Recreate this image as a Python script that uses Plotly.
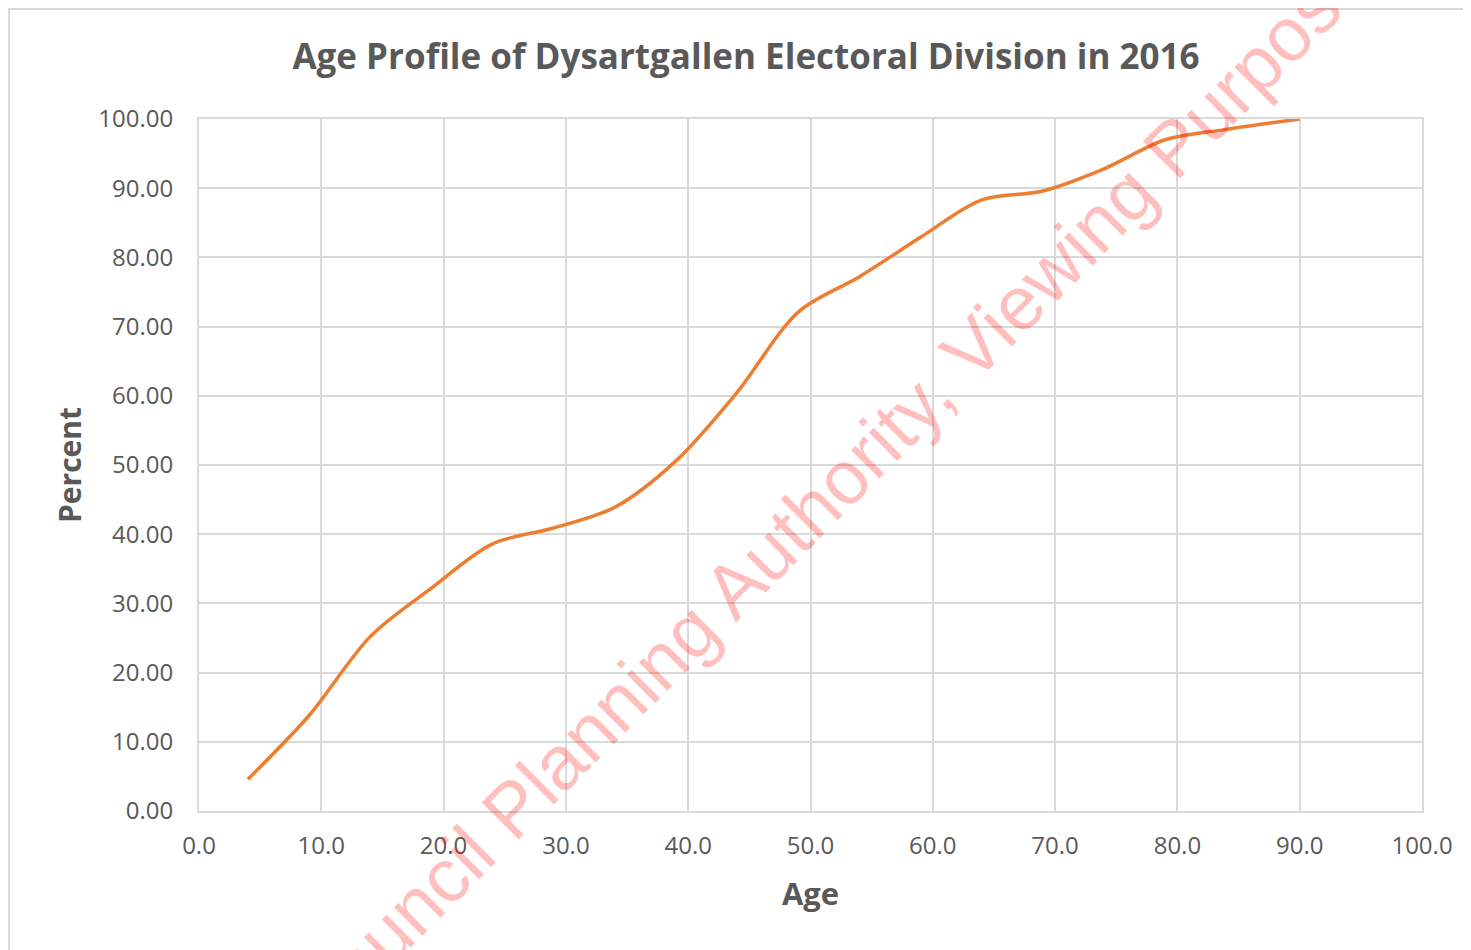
import plotly.graph_objects as go

ages = [4, 9, 14, 19, 24, 29, 34, 39, 44, 49, 54, 59, 64, 69, 74, 79, 84, 90]
cum_percent = [4.6, 13.8, 25.2, 32.2, 38.6, 40.9, 43.9, 50.6, 60.5, 72.1, 77.2,
               82.9, 88.3, 89.6, 92.8, 97.0, 98.5, 100.0]

x_ticks = [0, 10, 20, 30, 40, 50, 60, 70, 80, 90, 100]
y_ticks = [0, 10, 20, 30, 40, 50, 60, 70, 80, 90, 100]

grid = "#d9d9d9"
txt = "#595959"
font_fam = "Open Sans, Liberation Sans, sans-serif"

fig = go.Figure()
fig.add_trace(go.Scatter(
    x=ages, y=cum_percent, mode="lines",
    line=dict(color="#ED7D31", width=3.5, shape="spline", smoothing=0.9),
    showlegend=False, hoverinfo="x+y"))

fig.update_layout(
    width=1471, height=950,
    paper_bgcolor="white", plot_bgcolor="white",
    margin=dict(l=191, r=57, t=111, b=147),
    title=dict(text="<b>Age Profile of Dysartgallen Electoral Division in 2016</b>",
               x=738/1471, xanchor="center", xref="container",
               y=1-49/950, yanchor="middle", yref="container",
               font=dict(family=font_fam, size=35, color=txt)),
    font=dict(family=font_fam, color=txt),
)
fig.update_xaxes(
    range=[0, 100], tickvals=x_ticks, ticktext=[f"{v:.1f}" for v in x_ticks],
    showgrid=True, gridcolor=grid, gridwidth=2, zeroline=False,
    showline=True, linecolor=grid, linewidth=2, mirror=True,
    ticks="", tickfont=dict(size=24, color=txt), ticklabelstandoff=12,
    title=dict(text="<b>Age</b>", font=dict(size=31, color=txt), standoff=24),
)
fig.update_yaxes(
    range=[0, 100], tickvals=y_ticks, ticktext=[f"{v:.2f}" for v in y_ticks],
    showgrid=True, gridcolor=grid, gridwidth=2, zeroline=False,
    showline=True, linecolor=grid, linewidth=2, mirror=True,
    ticks="", tickfont=dict(size=24, color=txt), ticklabelstandoff=19,
    title=dict(text="<b>Percent</b>", font=dict(size=30, color=txt), standoff=8),
)

# outer chart border
fig.add_shape(type="rect", xref="paper", yref="paper",
              x0=(9 - 199) / 1223, x1=1.2, y0=-0.3, y1=(811 - 9) / 692,
              line=dict(color=grid, width=2), fillcolor="rgba(0,0,0,0)", layer="below")

# watermark
fig.add_annotation(
    text="Council Planning Authority, Viewing Purposes",
    xref="paper", yref="paper", x=(842 - 199) / 1223, y=(811 - 478) / 692,
    xanchor="center", yanchor="middle",
    showarrow=False, textangle=-45,
    font=dict(family="Liberation Sans, Arial, sans-serif", size=76, color="rgba(255,0,0,0.25)"),
)

fig.write_html("out.html")
